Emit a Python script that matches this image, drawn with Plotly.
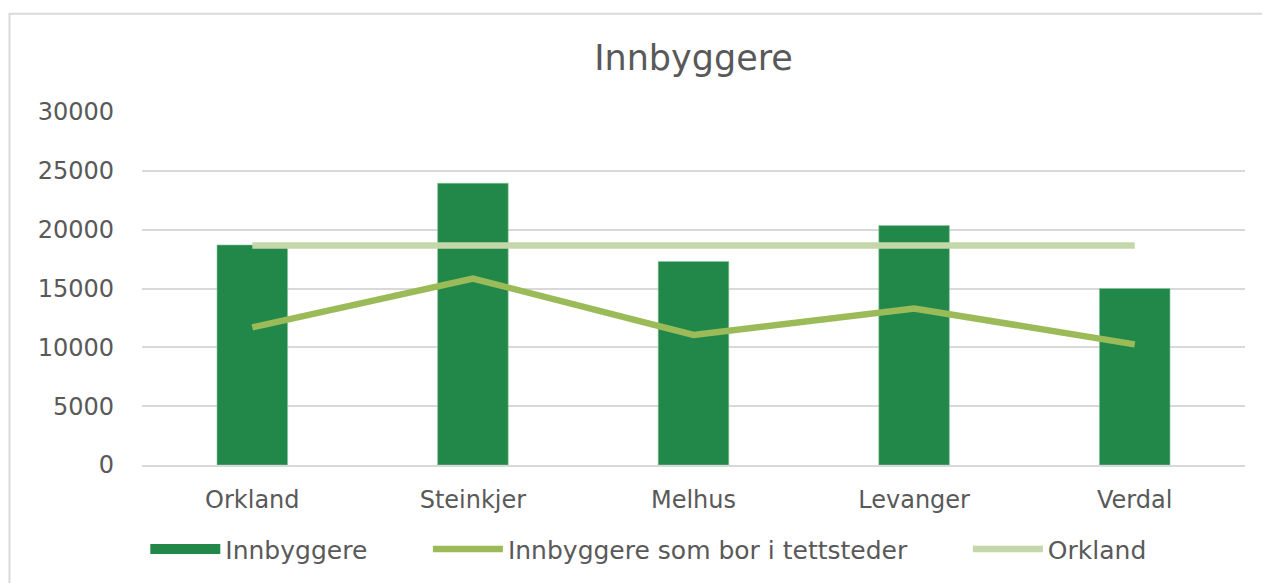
import plotly.graph_objects as go

categories = ["Orkland", "Steinkjer", "Melhus", "Levanger", "Verdal"]
innbyggere = [18700, 23950, 17300, 20350, 15000]
tettsteder = [11700, 15850, 11050, 13300, 10250]
orkland_ref = [18650, 18650, 18650, 18650, 18650]
y_ticks = [0, 5000, 10000, 15000, 20000, 25000, 30000]

FONT = "DejaVu Sans"
TXT = "#595959"
BAR = "#22884A"
PAD = "\u00a0" * 7  # spacing between legend entries

fig = go.Figure()
fig.add_trace(go.Bar(
    x=categories, y=innbyggere, name="Innbyggere",
    marker=dict(color=BAR, line=dict(color="#8CC7A0", width=0.6)),
    width=0.32, showlegend=False, legendgroup="inn",
))
# legend proxy for the bar series (wide rectangle key like the original)
fig.add_trace(go.Scatter(
    x=[None], y=[None], name="Innbyggere" + PAD, mode="lines",
    line=dict(color=BAR, width=12), legendgroup="inn",
))
fig.add_trace(go.Scatter(
    x=categories, y=tettsteder, name="Innbyggere som bor i tettsteder" + PAD,
    mode="lines", line=dict(color="#9BBB59", width=6.5),
))
fig.add_trace(go.Scatter(
    x=categories, y=orkland_ref, name="Orkland",
    mode="lines", line=dict(color="#C4D7AA", width=6.5),
))

W, H = 1262, 575  # page body has an 8px margin
fig.update_layout(
    width=W, height=H,
    margin=dict(l=134, r=25, t=104, b=117),
    paper_bgcolor="white", plot_bgcolor="white",
    title=dict(text="Innbyggere", x=0.5, xref="paper", xanchor="center",
               y=1 - 50 / H, yref="container", yanchor="middle",
               font=dict(family=FONT, size=35, color=TXT)),
    showlegend=True,
    legend=dict(orientation="h", x=0.003, xanchor="left", y=-0.235, yanchor="middle",
                font=dict(family=FONT, size=25, color=TXT),
                traceorder="normal", itemwidth=70),
    font=dict(family=FONT, color=TXT),
)
fig.update_yaxes(range=[0, 30000], tickvals=y_ticks, tickformat="d", showgrid=True,
                 gridcolor="#D9D9D9", gridwidth=1.5, zeroline=False,
                 showline=False, ticklabelstandoff=27,
                 tickfont=dict(family=FONT, size=24, color=TXT))
fig.update_xaxes(showgrid=False, showline=True, linecolor="#D9D9D9", linewidth=1.5,
                 ticklabelstandoff=12,
                 tickfont=dict(family=FONT, size=24, color=TXT))

# outer chart border
fig.add_shape(type="rect", xref="paper", yref="paper",
              x0=(9.5 - 142) / 1103, x1=(1290 - 142) / 1103,
              y0=(466 - 600) / 354, y1=(466 - 13.5) / 354,
              line=dict(color="#D9D9D9", width=2), fillcolor="rgba(0,0,0,0)",
              layer="below")

fig.write_html("out.html")
